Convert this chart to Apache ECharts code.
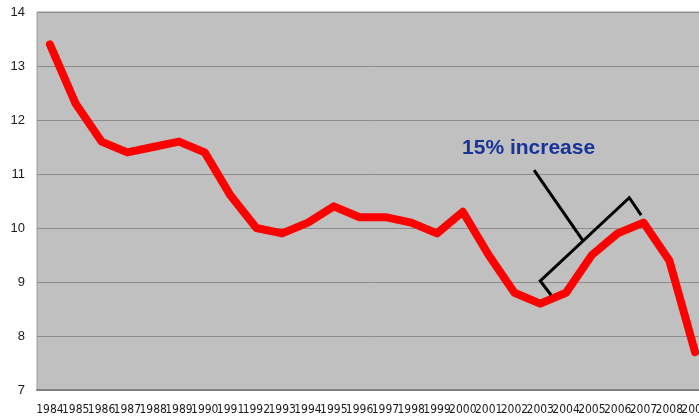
<!DOCTYPE html>
<html>
<head>
<meta charset="utf-8">
<script src="https://cdn.jsdelivr.net/npm/echarts@6/dist/echarts.min.js"></script>
<style>
  html, body { margin: 0; padding: 0; background: #ffffff; }
  #chart { width: 699px; height: 419px; }
</style>
</head>
<body>
<div id="chart"></div>
<script>
// Years on the category axis
const years = ['1984','1985','1986','1987','1988','1989','1990','1991','1992','1993',
  '1994','1995','1996','1997','1998','1999','2000','2001','2002','2003',
  '2004','2005','2006','2007','2008','2009'];

// Yearly values
const values = [13.4, 12.3, 11.6, 11.4, 11.5, 11.6, 11.4, 10.6, 10.0, 9.9,
  10.1, 10.4, 10.2, 10.2, 10.1, 9.9, 10.3, 9.5, 8.8, 8.6,
  8.8, 9.5, 9.9, 10.1, 9.4, 7.7];

// Y axis range and step
const yMin = 7, yMax = 14, yStep = 1;

// Annotation shapes, in category-slot units (x) and value units (y)
const bracketPath = [[19.92, 8.76], [19.5, 9.02], [22.95, 10.56], [23.41, 10.24]];
const pointerPath = [[19.26, 11.07], [21.16, 9.76]];
const noteText = '15% increase';
const notePos = [16.47, 11.48];

const chart = echarts.init(document.getElementById('chart'), null, { renderer: 'canvas' });

const annotationStyle = { color: '#000000', width: 3, cap: 'butt', join: 'miter' };

chart.setOption({
  animation: false,
  backgroundColor: '#ffffff',
  grid: {
    left: 37, top: 12, width: 671, height: 378,
    outerBoundsMode: 'none',
    containLabel: false,
    show: true, backgroundColor: '#c0c0c0', borderColor: '#9a9a9a', borderWidth: 1
  },
  xAxis: [{
    type: 'category',
    data: years,
    boundaryGap: true,
    axisLine: { show: true, lineStyle: { color: '#808080', width: 2 } },
    axisTick: { show: false },
    axisLabel: {
      interval: 0, margin: 14, color: '#1a1a1a',
      fontFamily: '"Liberation Sans Narrow", "DejaVu Sans Condensed", sans-serif',
      fontSize: 12
    },
    splitLine: { show: false }
  }, {
    type: 'value',
    min: 0, max: years.length,
    show: false,
    splitLine: { show: false }
  }],
  yAxis: {
    type: 'value',
    min: yMin, max: yMax, interval: yStep,
    axisLine: { show: false },
    axisTick: { show: false },
    axisLabel: {
      margin: 12, color: '#1a1a1a',
      fontFamily: '"Liberation Sans", Arial, sans-serif', fontSize: 13
    },
    splitLine: { show: true, lineStyle: { color: '#8c8c8c', width: 1 } }
  },
  series: [{
    type: 'line',
    data: values,
    symbol: 'none',
    lineStyle: { color: '#ff0000', width: 8, cap: 'round', join: 'round' },
    z: 3
  }, {
    type: 'line',
    xAxisIndex: 1,
    data: bracketPath,
    symbol: 'none',
    silent: true,
    lineStyle: annotationStyle,
    z: 4
  }, {
    type: 'line',
    xAxisIndex: 1,
    data: pointerPath,
    symbol: 'none',
    silent: true,
    lineStyle: annotationStyle,
    z: 4
  }]
});

// Place the note text at its value-space position
const p = chart.convertToPixel({ xAxisIndex: 1, yAxisIndex: 0 }, notePos);
chart.setOption({
  graphic: [{
    type: 'text',
    left: p[0], top: p[1] - 10,
    style: {
      text: noteText,
      fill: '#17339a',
      font: 'bold 21px "Liberation Sans", Arial, sans-serif'
    },
    z: 10
  }]
});
</script>
</body>
</html>
